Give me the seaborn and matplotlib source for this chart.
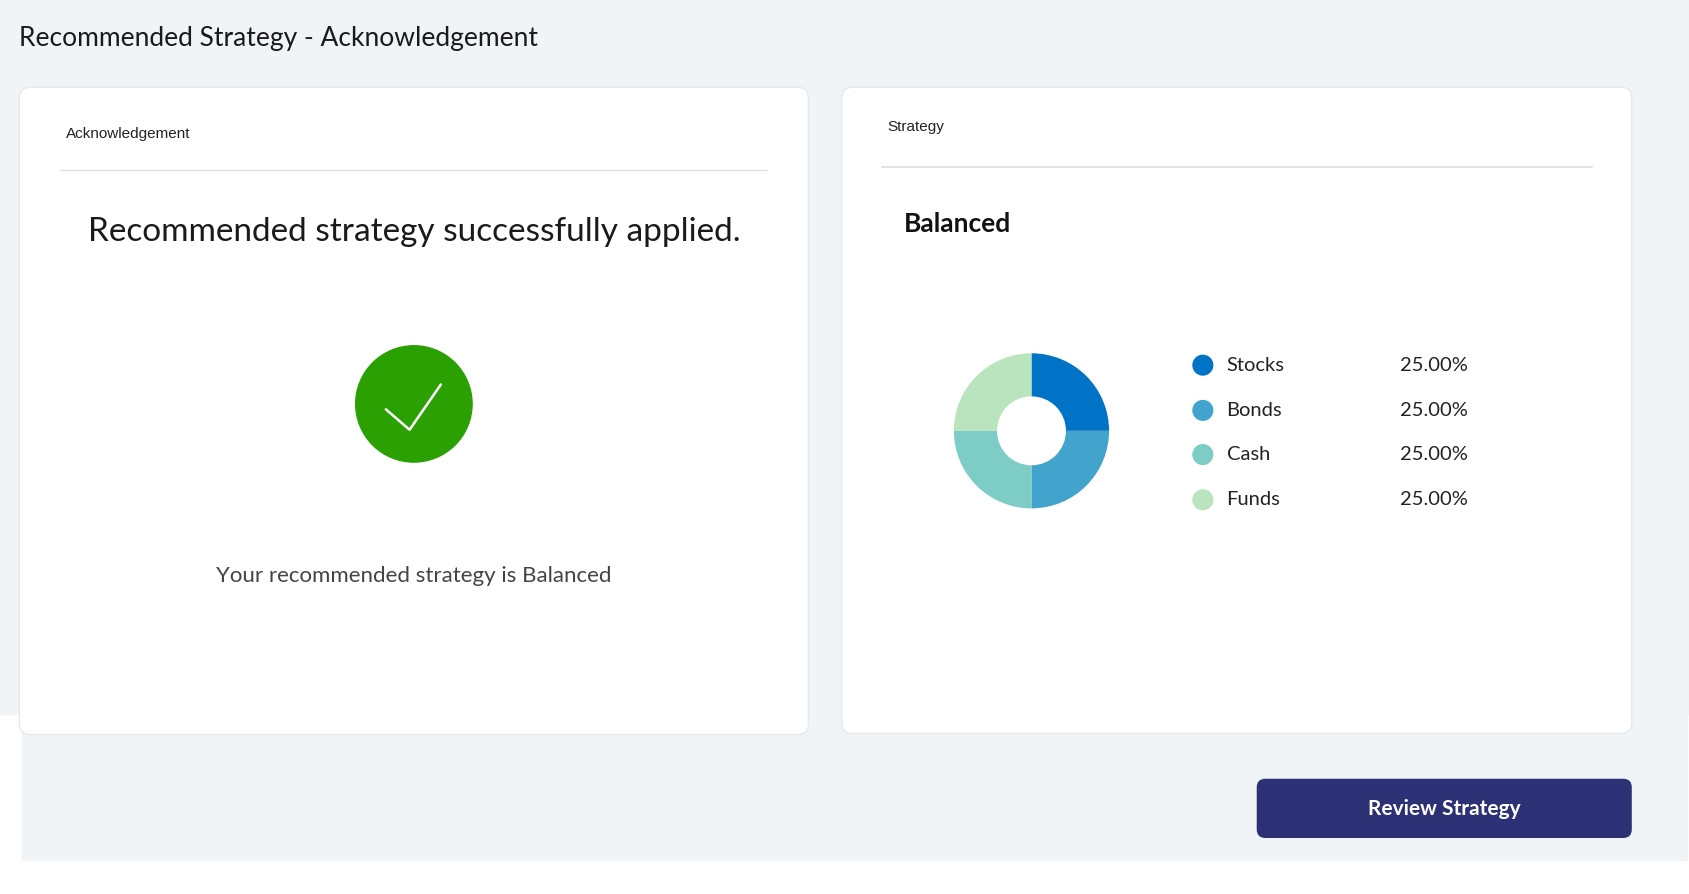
import matplotlib
matplotlib.use("Agg")
import matplotlib.pyplot as plt
from matplotlib.patches import FancyBboxPatch, Rectangle, Circle
import pandas as pd
import seaborn as sns

# chart data
assets = ["Stocks", "Bonds", "Cash", "Funds"]
weights = [25.0, 25.0, 25.0, 25.0]
colors = ["#0073c6", "#42a3cc", "#7dccc6", "#b9e4bd"]
strategy = "Balanced"

W, H = 1568, 830
FONT = "Lato"

sns.set_theme(style="white")
fig = plt.figure(figsize=(16.9, 8.94), dpi=100)
ax = fig.add_axes([0, 0, 1, 1])
ax.set_xlim(0, W)
ax.set_ylim(H, 0)
ax.axis("off")

# background
ax.add_patch(Rectangle((0, 0), W, 663, color="#f0f4f7", zorder=0))
ax.add_patch(Rectangle((20, 663), 1545, 135, color="#f0f4f7", zorder=0))

ax.text(18, 36, "Recommended Strategy - Acknowledgement", fontsize=19, family=FONT,
        color="#1a1a1a", va="center")


def card(x0, y0, x1, y1):
    ax.add_patch(FancyBboxPatch((x0, y0), x1 - x0, y1 - y0,
                                boxstyle="round,pad=0,rounding_size=10",
                                fc="white", ec="#e6e9ec", lw=1, zorder=1))


# left card
card(18, 81, 750, 682)
ax.text(61, 124, "Acknowledgement", fontsize=11, family="Liberation Sans",
        color="#222", va="center", zorder=2)
ax.plot([56, 712], [158, 158], color="#e2e2e2", lw=1, zorder=2)
ax.text(384, 215, "Recommended strategy successfully applied.", fontsize=24,
        family=FONT, color="#1a1a1a", ha="center", va="center", zorder=2)
ax.add_patch(Circle((384, 375), 54, color="#2aa003", zorder=2))
ax.plot([358, 380, 409], [380, 399, 357], color="white", lw=1.8, zorder=3)
ax.text(384, 535, "Your recommended strategy is Balanced", fontsize=16,
        family=FONT, color="#444", ha="center", va="center", zorder=2)

# right card
card(781, 81, 1514, 681)
ax.text(823, 118, "Strategy", fontsize=11, family="Liberation Sans",
        color="#222", va="center", zorder=2)
ax.plot([818, 1477], [155, 155], color="#dcdcdc", lw=1.2, zorder=2)
ax.text(839, 208, strategy, fontsize=19, family=FONT, weight="bold",
        color="#111", va="center", zorder=2)

# donut
pax = fig.add_axes([867 / W, 1 - 490 / H, 180 / W, 180 / H])
pax.pie(weights, colors=colors, startangle=90, counterclock=False,
        wedgeprops=dict(width=50 / 90, linewidth=0))
pax.set_aspect("auto")

# legend
leg = pd.DataFrame({"x": [1116] * 4, "y": [339, 381, 422, 464], "asset": assets})
sns.scatterplot(data=leg, x="x", y="y", hue="asset", palette=colors, s=230,
                linewidth=0, legend=False, ax=ax, zorder=3)
ax.set_xlim(0, W)
ax.set_ylim(H, 0)
ax.axis("off")
for a, w, y in zip(assets, weights, leg["y"]):
    ax.text(1138, y, a, fontsize=14.5, family=FONT, color="#222", va="center")
    ax.text(1299, y, f"{w:.2f}%", fontsize=14.5, family=FONT, color="#222", va="center")

# button
ax.add_patch(FancyBboxPatch((1166, 723), 348, 55,
                            boxstyle="round,pad=0,rounding_size=8",
                            fc="#2b3174", ec="none", zorder=2))
ax.text(1340, 751, "Review Strategy", fontsize=15, family=FONT, weight="bold",
        color="white", ha="center", va="center", zorder=3)

fig.savefig("out.png", dpi=100)
